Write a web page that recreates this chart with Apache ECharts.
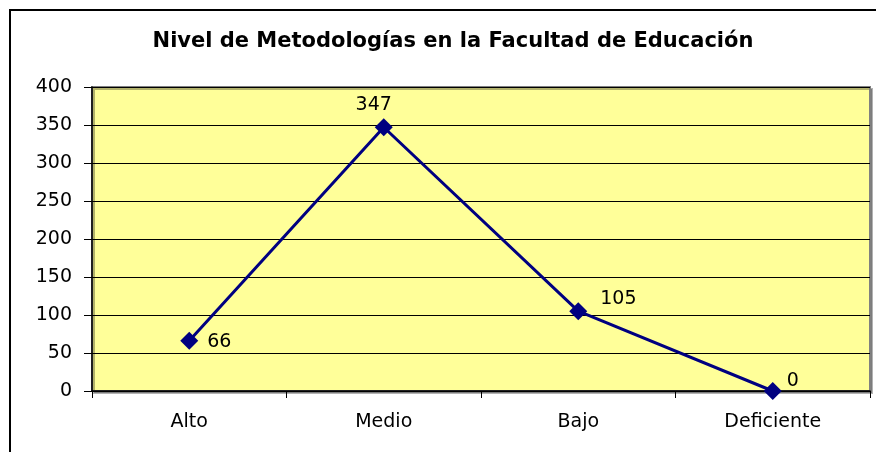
<!DOCTYPE html>
<html>
<head>
<meta charset="utf-8">
<script src="https://cdn.jsdelivr.net/npm/echarts@6/dist/echarts.min.js"></script>
<style>
  html, body { margin: 0; padding: 0; background: #fff; }
  #main { width: 876px; height: 452px; }
</style>
</head>
<body>
<div id="main"></div>
<script>
var chartTitle = 'Nivel de Metodologías en la Facultad de Educación';
var categories = ['Alto', 'Medio', 'Bajo', 'Deficiente'];
var values = [66, 347, 105, 0];
var yTicks = [0, 50, 100, 150, 200, 250, 300, 350, 400];

// label placement per point (style only, not data)
var labelStyles = [
    { position: 'right', offset: [4, 1] },
    { position: 'top', offset: [-10, 1] },
    { position: 'right', offset: [8, -12] },
    { position: 'right', offset: [0, -10] }
];

var myChart = echarts.init(document.getElementById('main'));

var option = {
    backgroundColor: '#ffffff',
    animation: false,
    textStyle: { fontFamily: 'DejaVu Sans, Verdana, sans-serif' },
    title: {
        text: chartTitle,
        left: 448,
        top: 26,
        textAlign: 'center',
        textStyle: { fontSize: 21, fontWeight: 'bold', color: '#000', fontFamily: 'DejaVu Sans' }
    },
    graphic: [{
        type: 'rect',
        shape: { x: 10, y: 10, width: 900, height: 500 },
        style: { fill: 'none', stroke: '#000', lineWidth: 2 },
        silent: true
    }],
    grid: {
        left: 92, top: 87, right: 6, bottom: 61,
        show: true,
        backgroundColor: '#ffff99',
        borderColor: '#808080',
        borderWidth: 2,
        shadowColor: 'rgba(0,0,0,0.3)',
        shadowOffsetX: 2,
        shadowOffsetY: 2
    },
    xAxis: {
        type: 'category',
        data: categories,
        boundaryGap: true,
        axisLine: { lineStyle: { color: '#000', width: 1.5 } },
        axisTick: { show: true, length: 7, lineStyle: { color: '#000' } },
        axisLabel: { color: '#000', fontSize: 19, margin: 22 }
    },
    yAxis: {
        type: 'value',
        min: yTicks[0],
        max: yTicks[yTicks.length - 1],
        interval: 50,
        axisLine: { show: true, lineStyle: { color: '#000', width: 1.5 } },
        axisTick: { show: true, length: 8, lineStyle: { color: '#000' } },
        axisLabel: { color: '#000', fontSize: 19, margin: 20 },
        splitLine: { show: true, lineStyle: { color: '#000', width: 1.2 } }
    },
    series: [{
        type: 'line',
        data: values.map(function (v, i) {
            return { value: v, label: labelStyles[i] };
        }),
        symbol: 'diamond',
        symbolSize: 18,
        lineStyle: { color: '#000080', width: 3 },
        itemStyle: { color: '#000080' },
        label: {
            show: true,
            color: '#000',
            fontSize: 19
        }
    }]
};

myChart.setOption(option);
</script>
</body>
</html>
